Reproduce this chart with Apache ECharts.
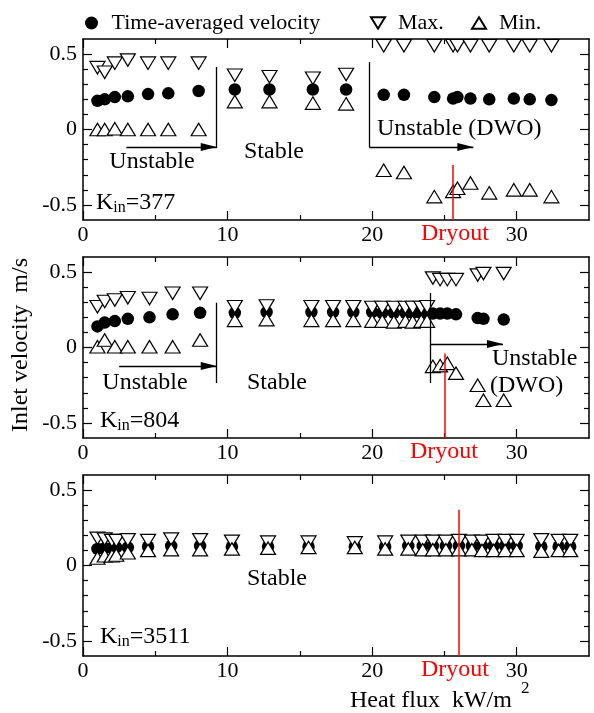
<!DOCTYPE html>
<html>
<head>
<meta charset="utf-8">
<script src="https://cdn.jsdelivr.net/npm/echarts@6/dist/echarts.min.js"></script>
<style>
  html, body { margin: 0; padding: 0; background: #fff; }
  #chart { width: 594px; height: 713px; }
</style>
</head>
<body>
<div id="chart"></div>
<script>
// ---- tick values -------------------------------------------------------
const xMajorTicks = [0, 10, 20, 30];
const xMinorTicks = [5, 15, 25];
const yMajorTicks = [-0.5, 0, 0.5];
const yMinorTicks = [-0.4, -0.3, -0.2, -0.1, 0.1, 0.2, 0.3, 0.4];

// ---- K_in = 377 ---------------------------------------------------------
const flux377 = [1.0, 1.5, 2.2, 3.1, 4.5, 5.9, 8.0, 10.5, 12.9, 15.9, 18.2, 20.8, 22.2, 24.3, 25.6, 25.9, 26.8, 28.1, 29.8, 30.9, 32.4];
const mean377 = [0.19, 0.20, 0.215, 0.22, 0.235, 0.24, 0.255, 0.265, 0.265, 0.265, 0.265, 0.23, 0.23, 0.215, 0.205, 0.215, 0.205, 0.20, 0.205, 0.20, 0.195];
const max377  = [0.41, 0.38, 0.44, 0.46, 0.44, 0.44, 0.44, 0.36, 0.35, 0.34, 0.365, 0.555, 0.555, 0.555, 0.555, 0.555, 0.555, 0.555, 0.555, 0.555, 0.555];
const min377  = [0.0, 0.0, 0.005, 0.0, 0.0, 0.0, 0.0, 0.185, 0.185, 0.175, 0.17, -0.27, -0.285, -0.445, -0.41, -0.39, -0.355, -0.42, -0.40, -0.40, -0.445];

// ---- K_in = 804 ---------------------------------------------------------
const flux804 = [1.0, 1.5, 2.2, 3.1, 4.6, 6.2, 8.1, 10.5, 12.7, 15.8, 17.3, 18.7, 20.0, 20.7, 21.5, 22.3, 22.8, 23.4, 23.8, 24.2, 24.7, 25.2, 25.8, 27.3, 27.7, 29.1];
const mean804 = [0.14, 0.165, 0.175, 0.19, 0.20, 0.22, 0.23, 0.23, 0.235, 0.235, 0.235, 0.235, 0.235, 0.23, 0.23, 0.23, 0.23, 0.23, 0.23, 0.225, 0.225, 0.225, 0.22, 0.195, 0.19, 0.185];
const max804  = [0.27, 0.305, 0.315, 0.33, 0.325, 0.36, 0.36, 0.27, 0.275, 0.27, 0.27, 0.27, 0.265, 0.265, 0.265, 0.265, 0.265, 0.265, 0.27, 0.46, 0.45, 0.45, 0.45, 0.48, 0.49, 0.49];
const min804  = [0.005, 0.05, 0.005, 0.005, 0.005, 0.005, 0.05, 0.18, 0.185, 0.18, 0.18, 0.18, 0.175, 0.175, 0.17, 0.175, 0.17, 0.175, 0.175, -0.125, -0.12, -0.105, -0.17, -0.25, -0.35, -0.35];

// ---- K_in = 3511 --------------------------------------------------------
const flux3511 = [1.0, 1.5, 2.0, 2.3, 3.1, 4.5, 6.1, 8.1, 10.3, 12.8, 15.6, 18.8, 20.9, 22.5, 23.5, 24.2, 25.1, 26.0, 26.9, 27.6, 28.4, 29.2, 30.0, 31.7, 32.9, 33.7];
const mean3511 = [0.11, 0.115, 0.115, 0.12, 0.12, 0.125, 0.13, 0.13, 0.125, 0.125, 0.125, 0.125, 0.125, 0.13, 0.13, 0.13, 0.13, 0.13, 0.13, 0.13, 0.13, 0.13, 0.13, 0.125, 0.125, 0.125];
const max3511  = [0.18, 0.175, 0.165, 0.165, 0.17, 0.165, 0.175, 0.17, 0.16, 0.155, 0.155, 0.15, 0.155, 0.16, 0.16, 0.16, 0.16, 0.165, 0.16, 0.16, 0.165, 0.165, 0.165, 0.17, 0.165, 0.165];
const min3511  = [0.05, 0.065, 0.065, 0.07, 0.085, 0.10, 0.105, 0.105, 0.11, 0.115, 0.12, 0.12, 0.11, 0.11, 0.105, 0.105, 0.105, 0.105, 0.105, 0.10, 0.10, 0.10, 0.10, 0.095, 0.10, 0.10];

// ---- regime boundaries (heat flux, velocity top, velocity bottom) -------
const bounds377 = [[9.25, 0.414, -0.123], [19.8, 0.447, -0.116]];
const bounds804 = [[9.25, 0.297, -0.236], [24.0, 0.361, -0.236]];
// arrows (flux start, flux end, velocity)
const arrows377 = [[3.0, 9.25, -0.116], [19.8, 27.0, -0.116]];
const arrows804 = [[2.5, 9.25, -0.123], [24.0, 29.05, 0.023]];
// dryout onset (heat flux, top of marker line)
const dryoutFlux = [25.6, 25.0, 26.0];
const dryoutTop = [-0.235, -0.04, 0.37];

const FONT = 'Liberation Serif';
const FS = 22;      // tick labels, legend
const FS_NOTE = 24; // annotations and axis titles
const gridTops = [39, 257, 475];
const gridH = 181;

// arrow head whose tip sits at the centre of its symbol box
const ARROW_HEAD = 'path://M4,0M4,16L8,32L0,32Z';

const panels = [
  { flux: flux377, mean: mean377, max: max377, min: min377, bounds: bounds377, arrows: arrows377 },
  { flux: flux804, mean: mean804, max: max804, min: min804, bounds: bounds804, arrows: arrows804 },
  { flux: flux3511, mean: mean3511, max: max3511, min: min3511, bounds: [], arrows: [] }
];

const black = '#000';
const lineW = 1.5;

function pairs(xs, ys) { return xs.map((x, i) => [x, ys[i]]); }

const grid = [], xAxis = [], yAxis = [], series = [];

panels.forEach((p, g) => {
  grid.push({ left: 83, right: 5, top: gridTops[g], height: gridH });

  const hiddenLine = { show: false, onZero: false };
  const frameLine = { show: true, onZero: false, lineStyle: { color: black, width: lineW } };
  const tick = (vals, len) => ({ show: true, inside: true, length: len, customValues: vals,
    lineStyle: { color: black, width: 1.2 } });

  const xb = { type: 'value', gridIndex: g, min: 0, max: 35, splitLine: { show: false },
    axisLine: hiddenLine, axisLabel: { show: false }, axisTick: { show: false } };
  xAxis.push(Object.assign({}, xb, { position: 'bottom', axisLine: frameLine,
    axisTick: tick(xMajorTicks, 9),
    axisLabel: { show: true, customValues: xMajorTicks, fontFamily: FONT, fontSize: FS, color: black, margin: 4 } }));
  xAxis.push(Object.assign({}, xb, { position: 'bottom', axisTick: tick(xMinorTicks, 5) }));
  xAxis.push(Object.assign({}, xb, { position: 'top', axisLine: frameLine, axisTick: tick(xMajorTicks, 9) }));
  xAxis.push(Object.assign({}, xb, { position: 'top', axisTick: tick(xMinorTicks, 5) }));

  const yb = { type: 'value', gridIndex: g, min: -0.6, max: 0.6, splitLine: { show: false },
    axisLine: hiddenLine, axisLabel: { show: false }, axisTick: { show: false } };
  yAxis.push(Object.assign({}, yb, { position: 'left', axisLine: frameLine,
    axisTick: tick(yMajorTicks, 9),
    axisLabel: { show: true, customValues: yMajorTicks, fontFamily: FONT, fontSize: FS, color: black, margin: 6,
      formatter: v => (v === 0 ? '0' : String(v)) } }));
  yAxis.push(Object.assign({}, yb, { position: 'left', axisTick: tick(yMinorTicks, 5) }));
  yAxis.push(Object.assign({}, yb, { position: 'right', axisLine: frameLine, axisTick: tick(yMajorTicks, 9) }));
  yAxis.push(Object.assign({}, yb, { position: 'right', axisTick: tick(yMinorTicks, 5) }));

  const ax = { xAxisIndex: 4 * g, yAxisIndex: 4 * g };

  // regime boundaries and arrows
  const ml = [];
  p.bounds.forEach(b => ml.push([{ coord: [b[0], b[1]] }, { coord: [b[0], b[2]] }]));
  p.arrows.forEach(a => ml.push([
    { coord: [a[0], a[2]], symbol: 'none' },
    { coord: [a[1], a[2]], symbol: ARROW_HEAD }
  ]));

  series.push(Object.assign({
    name: 'Time-averaged velocity', type: 'scatter', symbol: 'circle', symbolSize: 12.5,
    itemStyle: { color: black, opacity: 1 }, z: 2, data: pairs(p.flux, p.mean),
    markLine: { silent: true, animation: false, symbol: ['none', 'none'],
      symbolSize: [8, 32], label: { show: false },
      lineStyle: { color: black, width: 1.3, type: 'solid', opacity: 1 },
      itemStyle: { color: black }, emphasis: { disabled: true }, data: ml }
  }, ax));

  const tri = { type: 'scatter', symbol: 'triangle', symbolSize: [15, 12.5], z: 3,
    itemStyle: { color: '#fff', borderColor: black, borderWidth: 1.2, opacity: 1 } };
  series.push(Object.assign({}, tri, ax, { name: 'Max.', symbolRotate: 180, data: pairs(p.flux, p.max) }));
  series.push(Object.assign({}, tri, ax, { name: 'Min.', data: pairs(p.flux, p.min),
    markLine: { silent: true, animation: false, symbol: ['none', 'none'], label: { show: false },
      lineStyle: { color: '#ff0000', width: 1.5, type: 'solid', opacity: 1 }, emphasis: { disabled: true },
      data: [[{ coord: [dryoutFlux[g], dryoutTop[g]] }, { coord: [dryoutFlux[g], -0.6] }]] } }));
});

function txt(x, y, text, align, extra) {
  return { type: 'text', x: x, y: y, silent: true,
    style: Object.assign({ text: text, fontFamily: FONT, fontSize: FS_NOTE, fill: black,
      align: align || 'left', verticalAlign: 'middle' }, extra || {}) };
}
function kin(x, y, val) {
  return { type: 'text', x: x, y: y, silent: true,
    style: { text: '{k|K}{s|in}{k|=' + val + '}', verticalAlign: 'middle', align: 'left',
      rich: { k: { fontFamily: FONT, fontSize: FS_NOTE, fill: black },
              s: { fontFamily: FONT, fontSize: 16, fill: black, padding: [10, 0, 0, 0] } } } };
}

const graphic = [
  // panel K_in = 377
  txt(152, 162, 'Unstable', 'center'),
  txt(274, 152, 'Stable', 'center'),
  txt(377, 129, 'Unstable (DWO)', 'left'),
  kin(96, 203, '377'),
  txt(455, 234, 'Dryout', 'center', { fill: '#ff0000' }),
  // panel K_in = 804
  txt(145, 383, 'Unstable', 'center'),
  txt(277, 383, 'Stable', 'center'),
  txt(492, 359, 'Unstable', 'left'),
  txt(490, 386, '(DWO)', 'left'),
  kin(100, 421, '804'),
  txt(444, 452, 'Dryout', 'center', { fill: '#ff0000' }),
  // panel K_in = 3511
  txt(277, 579, 'Stable', 'center'),
  kin(100, 637, '3511'),
  txt(455, 670, 'Dryout', 'center', { fill: '#ff0000' }),
  // axis titles
  { type: 'text', x: 21, y: 345, rotation: Math.PI / 2, silent: true,
    style: { text: 'Inlet velocity  m/s', fontFamily: FONT, fontSize: FS_NOTE, fill: black, align: 'center', verticalAlign: 'middle' } },
  txt(350, 701, 'Heat flux  kW/m', 'left'),
  txt(521, 689, '2', 'left', { fontSize: 17 })
];

const legendBase = { top: 7, itemWidth: 14, itemHeight: 13, selectedMode: false,
  textStyle: { fontFamily: FONT, fontSize: FS, color: black, padding: [0, 0, 0, 8] } };
const legend = [
  Object.assign({}, legendBase, { left: 80, data: ['Time-averaged velocity'] }),
  Object.assign({}, legendBase, { left: 365, data: [{ name: 'Max.', icon: 'path://M0,0L16,0L8,13Z' }] }),
  Object.assign({}, legendBase, { left: 466, data: [{ name: 'Min.', icon: 'path://M8,0L16,13L0,13Z' }] })
];

const chart = echarts.init(document.getElementById('chart'), null, { renderer: 'canvas' });
chart.setOption({
  animation: false,
  backgroundColor: '#fff',
  grid: grid, xAxis: xAxis, yAxis: yAxis, series: series,
  legend: legend, graphic: graphic
});
</script>
</body>
</html>
